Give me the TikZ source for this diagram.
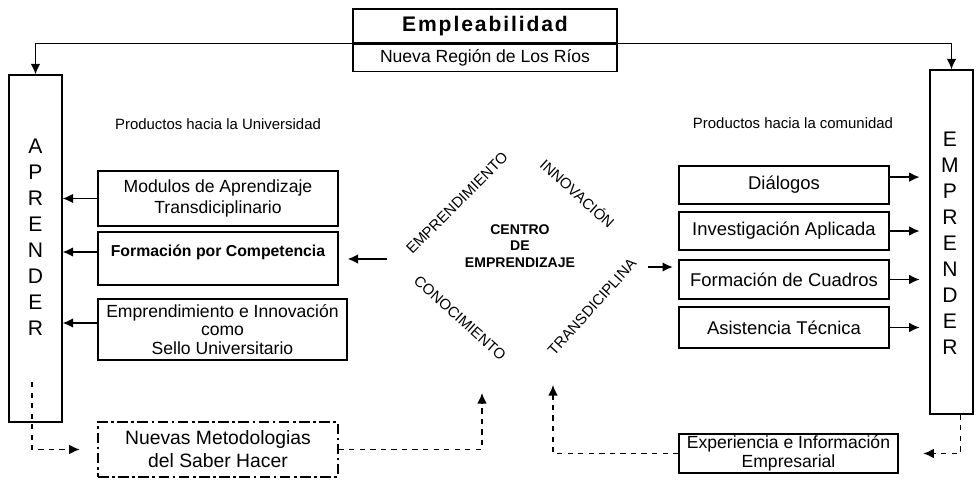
\documentclass[tikz,border=0pt]{standalone}
\usepackage{fontspec}
\setmainfont{Liberation Sans}
\usetikzlibrary{arrows}
\usetikzlibrary{arrows.meta}
\usetikzlibrary{calc}

\tikzset{
    caja/.style={draw, line width=0.8pt, inner sep=1pt, align=center, font=\fontsize{10}{11.5}\selectfont},
    cajad/.style={caja, minimum width=4.2cm, font=\fontsize{10.5}{12}\selectfont},
    letras/.style={align=center, inner sep=0pt, font=\fontsize{12}{14.8}\selectfont},
    flecha/.style={-{Latex[length=6pt,width=5.5pt]}, line width=0.8pt},
    punteada/.style={flecha, dashed},
    eje/.style={inner sep=0pt, font=\fontsize{8.5}{10}\selectfont},
    rotulo/.style={inner sep=0pt, font=\fontsize{8.5}{10}\selectfont},
}

\begin{document}
\begin{tikzpicture}[x=0.02cm, y=-0.02cm]
    \useasboundingbox (0,0) rectangle (977,483);

    \node[caja, minimum width=5.28cm, minimum height=0.68cm, font=\bfseries\fontsize{12}{14}\selectfont\addfontfeature{LetterSpace=9}] (emplA) at (485,26) {Empleabilidad};
    \node[caja, minimum width=5.28cm, minimum height=0.54cm, anchor=north] (emplB) at (emplA.south) {Nueva Región de Los Ríos};

    % aprender / emprender
    \node[draw, line width=0.8pt, minimum width=1.06cm, minimum height=6.94cm] (apr) at (35.5,248.5) {};
    \node[letras] (aprtxt) at (35.5,237.5) {A\\P\\R\\E\\N\\D\\E\\R};
    \node[draw, line width=0.8pt, minimum width=0.86cm, minimum height=6.88cm] (empr) at (951.5,242) {};
    \node[letras] (emprtxt) at (950,243.5) {E\\M\\P\\R\\E\\N\\D\\E\\R};

    \draw[flecha] (emplA.south west) -| (apr.north);
    \draw[flecha] (emplA.south east) -| (empr.north);

    \node[rotulo] (prodU) at (218,124) {Productos hacia la Universidad};
    \node[rotulo] (prodC) at (793,123) {Productos hacia la comunidad};

    % lado universidad
    \node[caja, minimum width=4.8cm, minimum height=1.1cm] (modulos) at (218,198.5) {Modulos de Aprendizaje\\Transdiciplinario};
    \node[caja, minimum width=4.8cm, minimum height=1.06cm] (compet) at (218,258.5) {};
    \node[inner sep=0pt, font=\bfseries\fontsize{9}{11}\selectfont] (competxt) at (218,252) {Formación por Competencia};
    \node[caja, minimum width=4.98cm, minimum height=1.22cm, font=\fontsize{10}{10.5}\selectfont] (sello) at (222.5,329.5) {Emprendimiento e Innovación\\como\\Sello Universitario};
    \node[caja, dash pattern=on 6pt off 2pt on 1.5pt off 2pt, minimum width=4.8cm, minimum height=1.1cm, font=\fontsize{11}{13}\selectfont] (nuevas) at (218,449.5) {Nuevas Metodologias\\del Saber Hacer};

    \draw[flecha] (modulos.west) -- (modulos.west -| apr.east);
    \draw[flecha] (competxt.west -| compet.west) -- (competxt.west -| apr.east);
    \draw[flecha] ([yshift=3.7pt]sello.west) -- ([yshift=3.7pt]sello.west -| apr.east);

    % lado comunidad
    \node[cajad, minimum height=0.76cm] (dialogos) at (784,185) {Diálogos};
    \node[cajad, minimum height=0.76cm] (investig) at (784,231) {Investigación Aplicada};
    \node[cajad, minimum height=0.78cm] (cuadros) at (784,279.5) {Formación de Cuadros};
    \node[cajad, minimum height=0.82cm] (asist) at (784,327.5) {Asistencia Técnica};
    \node[caja, minimum width=4.38cm, minimum height=0.78cm, font=\fontsize{10}{10.5}\selectfont] (exper) at (788.5,453.5) {Experiencia e Información\\Empresarial};

    \draw[flecha, shorten >=5.5pt] ([yshift=4.5pt]dialogos.east) -- ([yshift=4.5pt]dialogos.east -| empr.west);
    \draw[flecha, shorten >=5.5pt] (investig.east) -- (investig.east -| empr.west);
    \draw[flecha, shorten >=5.5pt] (cuadros.east) -- (cuadros.east -| empr.west);
    \draw[flecha, shorten >=5.5pt] (asist.east) -- (asist.east -| empr.west);

    % centro
    \node[eje, rotate=45] (emprend) at (457,203) {EMPRENDIMIENTO};
    \node[eje, rotate=-42] (innov) at (578,193) {INNOVACIÓN};
    \node[eje, rotate=-42] (conoc) at (460,318) {CONOCIMIENTO};
    \node[eje, rotate=48] (transd) at (592,307) {TRANSDICIPLINA};
    \node[align=center, inner sep=0pt, font=\bfseries\fontsize{8}{9.5}\selectfont] (centro) at (520,246) {CENTRO\\DE\\EMPRENDIZAJE};

    \coordinate (centroizq) at (387,259);
    \coordinate (centrodch) at (648,267);
    \draw[flecha, line width=1.5pt, shorten >=5pt] (centroizq) -- (centroizq -| compet.east);
    \draw[flecha, line width=1.2pt, shorten >=3pt] (centrodch) -- (centrodch -| cuadros.west);

    % retornos
    \coordinate (aprsal) at (32,382);
    \coordinate (centroinf) at (482,393);
    \coordinate (centroder) at (553,385);
    \draw[punteada, shorten >=10pt] (aprsal) |- (nuevas.west);
    \draw[punteada] (nuevas.east) -| (centroinf);
    \draw[punteada, shorten >=14pt] ([xshift=5pt]empr.south) |- (exper.east);
    \draw[punteada] (exper.west) -| (centroder);
\end{tikzpicture}
\end{document}
